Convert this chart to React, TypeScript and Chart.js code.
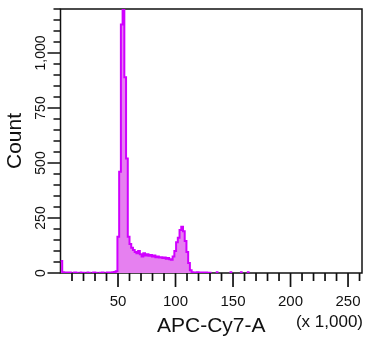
import React, { useEffect, useRef } from 'react';
import { Chart, registerables } from 'chart.js';

Chart.register(...registerables);

// Histogram of APC-Cy7-A (×1,000); each bin is BIN_WIDTH thousand units wide, starting at 0
const BIN_WIDTH = 1.5;
const binCounts = [
  55, 3, 2, 2, 1, 2, 0, 1, 2, 1, 0, 2, 1, 1, 0, 2, 1, 0, 1, 2, 1, 0, 1, 1, 2, 0, 1, 2, 1, 2, 3, 4, 8,
  165, 460, 1130, 1300, 890, 520, 165, 132, 115, 105, 95, 90, 100, 85, 75, 90, 80, 85, 78, 82, 75,
  80, 72, 75, 70, 72, 68, 70, 65, 68, 62, 60, 75, 100, 140, 160, 195, 210, 190, 145, 95, 45, 12,
  3, 2, 2, 3, 1, 2, 2, 1, 2, 1, 1,
  0, 0, 0, 3, 0, 0, 0, 0, 0, 0, 0, 3, 0, 0, 0, 0, 0, 3, 0, 0, 0, 3, 0, 0,
];

const X_MAX = 262.144;
const Y_MAX = 1200;
const xTickValues = [10, 20, 30, 40, 50, 60, 70, 80, 90, 100, 110, 120, 130, 140, 150, 160, 170, 180, 190, 200, 210, 220, 230, 240, 250, 260];
const xLabelValues = [50, 100, 150, 200, 250];
const yTickValues = [0, 50, 100, 150, 200, 250, 300, 350, 400, 450, 500, 550, 600, 650, 700, 750, 800, 850, 900, 950, 1000, 1050, 1100, 1150, 1200];
const yLabelValues = [0, 250, 500, 750, 1000];

const X_TITLE = 'APC-Cy7-A';
const Y_TITLE = 'Count';
const X_UNIT = '(x 1,000)';

const LINE_COLOR = '#d000ff';
const FILL_COLOR = '#e680f0';
const INK = '#111111';
const FONT_FAMILY = 'Arial, "Liberation Sans", sans-serif';

const facsAxesPlugin = {
  id: 'facsAxes',
  beforeDatasetsDraw(chart: any) {
    const { ctx, chartArea: a, scales } = chart;
    const x = scales.x;
    const y = scales.y;
    ctx.save();
    ctx.strokeStyle = INK;
    ctx.lineWidth = 1.7;
    ctx.beginPath();
    xTickValues.forEach((v) => {
      const px = x.getPixelForValue(v);
      const len = xLabelValues.includes(v) ? 14 : 8;
      ctx.moveTo(px, a.bottom);
      ctx.lineTo(px, a.bottom + len);
    });
    yTickValues.forEach((v) => {
      const py = y.getPixelForValue(v);
      const len = yLabelValues.includes(v) ? 13 : 7;
      ctx.moveTo(a.left, py);
      ctx.lineTo(a.left - len, py);
    });
    ctx.stroke();
    ctx.lineWidth = 1.5;
    ctx.strokeRect(a.left, a.top, a.right - a.left, a.bottom - a.top);
    ctx.restore();
  },
  afterDraw(chart: any) {
    const { ctx, chartArea: a } = chart;
    ctx.save();
    ctx.fillStyle = INK;
    ctx.font = `17px ${FONT_FAMILY}`;
    ctx.textAlign = 'right';
    ctx.textBaseline = 'middle';
    ctx.fillText(X_UNIT, a.right + 1, 322);
    ctx.restore();
  },
};

export default function App() {
  const canvasRef = useRef<HTMLCanvasElement | null>(null);

  useEffect(() => {
    if (!canvasRef.current) return;
    const points = binCounts.map((c, i) => ({ x: i * BIN_WIDTH, y: c }));
    points.push({ x: binCounts.length * BIN_WIDTH, y: 0 });

    const chart = new Chart(canvasRef.current, {
      type: 'line',
      data: {
        datasets: [
          {
            data: points,
            stepped: true,
            borderColor: LINE_COLOR,
            borderWidth: 2,
            backgroundColor: FILL_COLOR,
            fill: 'origin',
            pointRadius: 0,
            segment: {
              borderColor: (c: any) => (c.p0.parsed.y === 0 ? 'rgba(0,0,0,0)' : LINE_COLOR),
            },
          },
        ],
      },
      options: {
        responsive: false,
        animation: false,
        events: [],
        layout: { padding: { top: 9, right: 10, left: 0, bottom: 0 } },
        plugins: { legend: { display: false }, tooltip: { enabled: false } },
        scales: {
          x: {
            type: 'linear',
            min: 0,
            max: X_MAX,
            grid: { display: false },
            border: { display: false },
            afterFit: (s: any) => {
              s.height = 67;
              s.paddingLeft = 0;
              s.paddingRight = 0;
            },
            afterBuildTicks: (s: any) => {
              s.ticks = xTickValues.map((v) => ({ value: v }));
            },
            ticks: {
              autoSkip: false,
              maxRotation: 0,
              minRotation: 0,
              padding: 12,
              color: INK,
              font: { family: FONT_FAMILY, size: 15 },
              callback: (v: any) => (xLabelValues.includes(Number(v)) ? String(v) : ''),
            },
            title: {
              display: true,
              text: X_TITLE,
              color: INK,
              font: { family: FONT_FAMILY, size: 21 },
              padding: { top: 0, bottom: 1 },
            },
          },
          y: {
            type: 'linear',
            min: 0,
            max: Y_MAX,
            grid: { display: false },
            border: { display: false },
            afterFit: (s: any) => {
              s.width = 60.5;
              s.paddingTop = 0;
              s.paddingBottom = 0;
            },
            afterBuildTicks: (s: any) => {
              s.ticks = yTickValues.map((v) => ({ value: v }));
            },
            ticks: {
              autoSkip: false,
              minRotation: 90,
              maxRotation: 90,
              crossAlign: 'center',
              padding: -6,
              color: INK,
              font: { family: FONT_FAMILY, size: 14 },
              callback: (v: any) => (yLabelValues.includes(Number(v)) ? Number(v).toLocaleString('en-US') : ''),
            },
            title: {
              display: true,
              text: Y_TITLE,
              color: INK,
              font: { family: FONT_FAMILY, size: 21 },
              padding: { top: 3, bottom: 0 },
            },
          },
        },
      },
      plugins: [facsAxesPlugin],
    } as any);

    return () => chart.destroy();
  }, []);

  return (
    <div style={{ position: 'absolute', left: 0, top: 0, width: 372, height: 340, background: '#fff' }}>
      <canvas ref={canvasRef} width={372} height={340} style={{ display: 'block', width: 372, height: 340 }} />
    </div>
  );
}
